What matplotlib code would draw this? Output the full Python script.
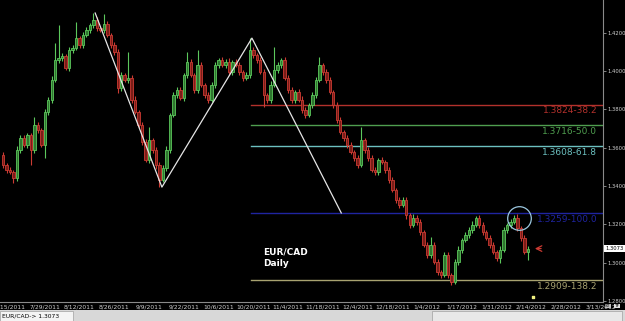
import numpy as np
import matplotlib
matplotlib.use("Agg")
import matplotlib.pyplot as plt
from matplotlib.patches import Rectangle

# daily closes EUR/CAD (first bar is two bars before 7/15/2011)
closes = [1.3509, 1.3483, 1.3473, 1.3441, 1.3588, 1.3650, 1.3614, 1.3666, 1.3588, 1.3718,
          1.3692, 1.3614, 1.3786, 1.3849, 1.3953, 1.4057, 1.4068, 1.4078, 1.4016, 1.4110,
          1.4120, 1.4172, 1.4136, 1.4188, 1.4214, 1.4240, 1.4266, 1.4224, 1.4214, 1.4245,
          1.4188, 1.4136, 1.4099, 1.3911, 1.3979, 1.3953, 1.3963, 1.3849, 1.3786, 1.3718,
          1.3629, 1.3535, 1.3640, 1.3588, 1.3509, 1.3431, 1.3494, 1.3588, 1.3770, 1.3875,
          1.3901, 1.3859, 1.3979, 1.4047, 1.3979, 1.3901, 1.4031, 1.3927, 1.3875, 1.3849,
          1.3927, 1.4031, 1.4057, 1.4031, 1.4047, 1.3995, 1.4047, 1.4031, 1.3995, 1.3963,
          1.3979, 1.4110, 1.4084, 1.4057, 1.3995, 1.3875, 1.3849, 1.3927, 1.4005, 1.4031,
          1.4057, 1.3963, 1.3901, 1.3849, 1.3890, 1.3849, 1.3796, 1.3770, 1.3823, 1.3875,
          1.3953, 1.4031, 1.3995, 1.3953, 1.3890, 1.3823, 1.3744, 1.3682, 1.3650, 1.3614,
          1.3577, 1.3546, 1.3509, 1.3640, 1.3588, 1.3546, 1.3483, 1.3473, 1.3535, 1.3525,
          1.3483, 1.3431, 1.3379, 1.3327, 1.3301, 1.3327, 1.3248, 1.3196, 1.3233, 1.3212,
          1.3160, 1.3092, 1.3040, 1.3092, 1.3003, 1.2951, 1.2935, 1.3040, 1.2935, 1.2899,
          1.3003, 1.3066, 1.3118, 1.3144, 1.3170, 1.3196, 1.3233, 1.3196, 1.3160, 1.3128,
          1.3092, 1.3055, 1.3024, 1.3066, 1.3170, 1.3196, 1.3212, 1.3233, 1.3180, 1.3128,
          1.3055, 1.3073]
first_open = 1.3560

# wick lengths in pips above / below the body
upper_pips = [18, 12, 15, 10, 20, 14, 16, 12, 10, 42,
              15, 12, 14, 18, 20, 89, 172, 15, 12, 16,
              14, 84, 12, 18, 15, 10, 37, 14, 12, 52,
              15, 12, 18, 14, 16, 12, 136, 14, 20, 12,
              16, 14, 68, 12, 15, 18, 14, 20, 12, 16,
              14, 18, 12, 52, 15, 10, 78, 14, 12, 16,
              18, 14, 12, 16, 15, 20, 12, 14, 18, 12,
              16, 63, 14, 12, 18, 15, 12, 20, 120, 14,
              12, 16, 18, 14, 12, 15, 20, 14, 12, 16,
              14, 42, 12, 18, 15, 12, 14, 16, 12, 18,
              14, 12, 16, 68, 12, 15, 18, 14, 12, 16,
              12, 14, 18, 12, 15, 14, 16, 12, 18, 14,
              16, 12, 14, 42, 15, 18, 12, 16, 14, 12,
              15, 18, 12, 14, 16, 20, 12, 14, 15, 12,
              14, 16, 12, 18, 15, 12, 14, 16, 18, 12,
              14, 12]
lower_pips = [14, 16, 12, 26, 15, 18, 12, 14, 78, 16,
              14, 12, 68, 15, 18, 12, 14, 16, 12, 15,
              16, 12, 14, 18, 12, 15, 14, 16, 12, 14,
              12, 15, 16, 26, 14, 12, 18, 15, 12, 14,
              16, 12, 14, 15, 18, 37, 12, 14, 16, 12,
              15, 12, 16, 14, 12, 18, 14, 12, 16, 15,
              12, 14, 16, 12, 15, 14, 18, 12, 14, 16,
              12, 15, 14, 16, 12, 63, 14, 18, 12, 15,
              16, 12, 14, 15, 18, 12, 14, 16, 12, 14,
              15, 12, 16, 14, 12, 18, 15, 12, 14, 16,
              12, 14, 16, 12, 15, 18, 12, 14, 16, 12,
              14, 15, 12, 16, 14, 12, 18, 15, 12, 14,
              16, 12, 14, 15, 12, 18, 14, 12, 15, 16,
              12, 14, 16, 12, 15, 14, 12, 16, 14, 12,
              15, 12, 14, 26, 12, 16, 14, 12, 15, 14,
              12, 42]

date_labels = ["7/15/2011", "7/29/2011", "8/12/2011", "8/26/2011", "9/9/2011", "9/22/2011",
               "10/6/2011", "10/20/2011", "11/4/2011", "11/18/2011", "12/4/2011", "12/18/2011",
               "1/4/2012", "1/17/2012", "1/31/2012", "2/14/2012", "2/28/2012", "3/13/2012"]
price_ticks = [1.28, 1.30, 1.32, 1.34, 1.36, 1.38, 1.40, 1.42]

# ABCD swing drawn on the chart (bar index, price)
swing_x = [24.5, 43.7, 69.6, 95.3]
swing_y = [1.4303, 1.3394, 1.4172, 1.3259]

fib_levels = [1.3824, 1.3716, 1.3608, 1.3259, 1.2909]
fib_labels = ["1.3824-38.2", "1.3716-50.0", "1.3608-61.8", "1.3259-100.0", "1.2909-138.2"]
fib_colors = ["#b3312c", "#4f9e4f", "#6cc0c0", "#1f24a0", "#a8a270"]
fib_start = 69.4

last_price = 1.3073

closes = np.array(closes)
opens = np.concatenate([[first_open], closes[:-1]])
highs = np.maximum(opens, closes) + np.array(upper_pips) * 1e-4
lows = np.minimum(opens, closes) - np.array(lower_pips) * 1e-4
xs = np.arange(len(closes)) - 2

fig = plt.figure(figsize=(6.25, 3.21), dpi=100, facecolor="black")
ax = fig.add_axes([0, 1 - 302 / 321, 603 / 625, 302 / 321])
ax.set_facecolor("black")

up = closes >= opens
edge = np.where(up, "#5cc85c", "#cc3b33")
face = np.where(up, "#2e762e", "#7a1d18")
ax.vlines(xs, lows, highs, colors=edge, linewidth=0.8, zorder=2)
body_h = np.maximum(np.abs(closes - opens), 0.0004)
ax.bar(xs, body_h, bottom=np.minimum(opens, closes), width=0.7,
       color=face, edgecolor=edge, linewidth=0.6, zorder=3)

# fibonacci levels
for lvl, lab, col in zip(fib_levels, fib_labels, fib_colors):
    ax.plot([fib_start, 175], [lvl, lvl], color=col, lw=1.0, zorder=1)
    ax.text(168.9, lvl - 0.0009, lab, color=col, fontsize=6.5, ha="right", va="top", zorder=4)

ax.plot(swing_x, swing_y, color="#e6e6e6", lw=0.9, zorder=4)

ax.plot([146.5], [1.3232], "o", ms=17, mfc="none", mec="#9cc8e0", mew=0.9, zorder=5)
ax.annotate("", xy=(150.2, last_price), xytext=(153.6, last_price),
            arrowprops=dict(arrowstyle="->", color="#cc3b33", lw=0.9))

ax.text(72.8, 1.3055, "EUR/CAD", color="white", fontsize=6.5, fontweight="bold", va="center")
ax.text(72.8, 1.2993, "Daily", color="white", fontsize=6.5, fontweight="bold", va="center")

ax.set_xlim(-2.88, 170.6)
ax.set_ylim(1.2794, 1.4371)

ax.yaxis.tick_right()
ax.set_yticks(price_ticks)
ax.set_yticklabels(["%.4f" % p for p in price_ticks])
ax.set_xticks(np.arange(len(date_labels)) * 10)
ax.set_xticklabels(date_labels)
ax.tick_params(axis="y", colors="#9a9a9a", labelcolor="#d0d0d0", labelsize=3.8,
               length=2, width=0.6, pad=1.5)
ax.tick_params(axis="x", labelcolor="#d0d0d0", labelsize=4.3, length=0, pad=2)
for s in ["top", "left"]:
    ax.spines[s].set_visible(False)
ax.spines["right"].set_color("#8a8a8a")
ax.spines["bottom"].set_color("#8a8a8a")
ax.spines["right"].set_linewidth(0.8)
ax.spines["bottom"].set_linewidth(0.8)

ax.text(1.004, last_price, "%.4f" % last_price, transform=ax.get_yaxis_transform(),
        fontsize=3.8, color="black", va="center", ha="left",
        bbox=dict(boxstyle="square,pad=0.2", fc="white", ec="none"), clip_on=False)

ax.scatter([150.5], [1.2820], s=4, marker="s", color="#f0f080", zorder=6, clip_on=False)

# status bar at the bottom
fig.patches.append(Rectangle((0, 0), 1, 11 / 321, transform=fig.transFigure,
                             fc="#d8d8d8", ec="none", zorder=0))
fig.patches.append(Rectangle((0, 0.5 / 321), 73 / 625, 10 / 321, transform=fig.transFigure,
                             fc="#f4f4f4", ec="#a0a0a0", lw=0.5, zorder=1))
fig.patches.append(Rectangle((432 / 625, 0.5 / 321), 190 / 625, 10 / 321, transform=fig.transFigure,
                             fc="#e8e8e8", ec="#a0a0a0", lw=0.5, zorder=1))
fig.text(2 / 625, 5.5 / 321, "EUR/CAD-> 1.3073", fontsize=4.3, color="black", va="center")
fig.text(605 / 625, 15 / 321, "ST", fontsize=3.2, color="black", va="center", zorder=5,
         bbox=dict(boxstyle="square,pad=0.1", fc="#c0c0c0", ec="none"))
fig.text(614 / 625, 15 / 321, "TF", fontsize=3.2, color="black", va="center", zorder=5,
         bbox=dict(boxstyle="square,pad=0.1", fc="#e0e0e0", ec="none"))

fig.savefig("out.png", dpi=100, facecolor="black")
